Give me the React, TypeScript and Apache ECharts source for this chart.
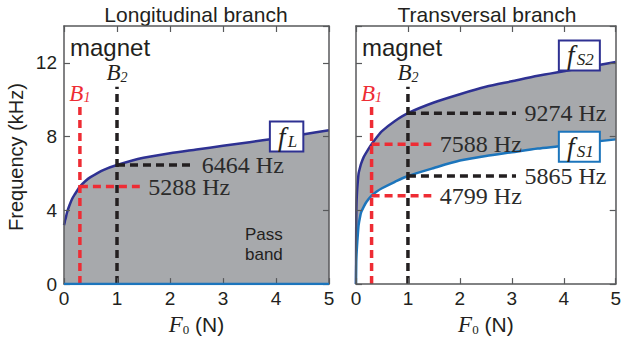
import React, { useEffect, useRef } from "react";
import * as echarts from "echarts";

// ---- data ----
const F0 = [0, 0.005, 0.01, 0.02, 0.03, 0.05, 0.075, 0.1, 0.15, 0.2, 0.3, 0.4, 0.5, 0.75, 1, 1.5, 2, 2.5, 3, 3.5, 4, 4.5, 5];
const fL = [3.2, 3.25, 3.3, 3.45, 3.55, 3.8, 4.05, 4.25, 4.6, 4.85, 5.288, 5.58, 5.8, 6.2, 6.464, 6.85, 7.1, 7.3, 7.5, 7.7, 7.9, 8.12, 8.35];
const fS1 = [0, 1.2, 1.6, 2.1, 2.5, 3.2, 3.6, 3.9, 4.2, 4.45, 4.799, 5.02, 5.2, 5.55, 5.865, 6.3, 6.7, 6.95, 7.15, 7.35, 7.5, 7.7, 7.85];
const fS2 = [0, 3.6, 4.4, 5.0, 5.4, 6.0, 6.3, 6.55, 6.9, 7.15, 7.588, 7.97, 8.3, 8.85, 9.274, 9.85, 10.3, 10.7, 11.0, 11.3, 11.55, 11.8, 12.05];

const B_FORCE = [0.3, 1]; // B1, B2 (N)
const B_TOP = [9.6, 10.7]; // top of the vertical markers (kHz)
const LONG_HZ = [5288, 6464]; // at B1, B2
const LONG_END = [1.43, 2.44]; // end of horizontal markers (N)
const TRANS_S2_HZ = [7588, 9274];
const TRANS_S1_HZ = [4799, 5865];
const TRANS_END = [1.45, 3.08];

const TITLES = ["Longitudinal branch", "Transversal branch"];
const X_TICKS = { min: 0, max: 5, interval: 1 };
const Y_TICKS = { min: 0, max: 14, interval: 4 };

// ---- styles ----
const DARK = "#2e3192";
const LIGHT = "#1c75bc";
const GREY = "#a7a9ac";
const RED = "#ee2c34";
const INK = "#231f20";
const FRAME = "#58595b";
const SERIF = "Liberation Serif";
const SANS = "Liberation Sans";

export default function App() {
  const ref = useRef<HTMLDivElement>(null);

  useEffect(() => {
    if (!ref.current) return;
    const chart = echarts.init(ref.current, undefined, { renderer: "svg" });

    const pts = (ys: number[]) => F0.map((x, i) => [x, ys[i]]);

    const mkX = (grid: number, pos: string, labels: boolean) => ({
      type: "value",
      gridIndex: grid,
      position: pos,
      ...X_TICKS,
      z: 10,
      axisLine: { show: true, onZero: false, lineStyle: { color: FRAME, width: 1.5 } },
      axisTick: { show: true, inside: true, length: 6, lineStyle: { color: FRAME, width: 1.2 } },
      axisLabel: labels
        ? { show: true, fontSize: 19, color: INK, fontFamily: SANS, margin: 5 }
        : { show: false },
      splitLine: { show: false },
      ...(labels
        ? {
            name: "{F|F}{z|0}{n| (N)}",
            nameLocation: "middle",
            nameGap: 22,
            nameTextStyle: {
              rich: {
                F: { fontFamily: SERIF, fontStyle: "italic", fontSize: 23, color: INK },
                z: { fontFamily: SERIF, fontSize: 13, color: INK, padding: [10, 0, 0, 0] },
                n: { fontFamily: SANS, fontSize: 21, color: INK },
              },
            },
          }
        : {}),
    });

    const mkY = (grid: number, pos: string, labels: boolean) => ({
      type: "value",
      gridIndex: grid,
      position: pos,
      ...Y_TICKS,
      z: 10,
      axisLine: { show: true, onZero: false, lineStyle: { color: FRAME, width: 1.5 } },
      axisTick: { show: true, inside: true, length: 6, lineStyle: { color: FRAME, width: 1.2 } },
      axisLabel: labels
        ? { show: true, fontSize: 19, color: INK, fontFamily: SANS, margin: 7, showMaxLabel: false }
        : { show: false },
      splitLine: { show: false },
    });

    const dash = (xi: number, data: number[][], color: string) => ({
      type: "line",
      xAxisIndex: xi,
      yAxisIndex: xi,
      data,
      symbol: "none",
      z: 6,
      silent: true,
      lineStyle: { color, width: 3.5, type: [8, 5] },
    });

    const hzLabel = (x: number, hz: number) => ({
      value: [x, hz / 1000],
      label: {
        show: true,
        position: "right",
        distance: 8,
        formatter: `${hz} Hz`,
        fontFamily: SERIF,
        fontSize: 24,
        color: "#2b2b2b",
        opacity: 1,
      },
    });

    const bLabel = (x: number, top: number, sub: string, color: string) => ({
      value: [x, top],
      label: {
        show: true,
        position: "top",
        distance: 2,
        opacity: 1,
        formatter: `{b|B}{s|${sub}}`,
        rich: {
          b: { fontFamily: SERIF, fontStyle: "italic", fontSize: 23, color, lineHeight: 22 },
          s: { fontFamily: SERIF, fontStyle: "italic", fontSize: 14, color, padding: [9, 0, 0, 0] },
        },
      },
    });

    const boxLabel = (x: number, y: number, sub: string, color: string) => ({
      value: [x, y],
      label: {
        show: true,
        position: "inside",
        opacity: 1,
        formatter: `{f|f}{s|${sub}}`,
        backgroundColor: "#fff",
        borderColor: color,
        borderWidth: 2,
        padding: [1, 5, 1, 5],
        rich: {
          f: { fontFamily: SERIF, fontStyle: "italic", fontSize: 27, lineHeight: 24, color: INK, width: 12 },
          s: { fontFamily: SERIF, fontStyle: "italic", fontSize: 17, color: INK, padding: [9, 0, 0, 0] },
        },
      },
    });

    const labels = (xi: number, data: any[]) => ({
      type: "scatter",
      xAxisIndex: xi,
      yAxisIndex: xi,
      symbolSize: 1,
      itemStyle: { color: "rgba(0,0,0,0)", opacity: 1 },
      silent: true,
      z: 20,
      data,
    });

    const curve = (xi: number, ys: number[], color: string, fill: string, z: number) => ({
      type: "line",
      xAxisIndex: xi,
      yAxisIndex: xi,
      data: pts(ys),
      symbol: "none",
      smooth: 0.25,
      z,
      silent: true,
      lineStyle: { color, width: 2.5 },
      areaStyle: { color: fill, opacity: 1 },
    });

    const option: any = {
      animation: false,
      grid: [
        { left: 64, top: 26, width: 265, height: 264 },
        { left: 356, top: 26, width: 263, height: 264 },
      ],
      xAxis: [mkX(0, "bottom", true), mkX(0, "top", false), mkX(1, "bottom", true), mkX(1, "top", false)],
      yAxis: [mkY(0, "left", true), mkY(0, "right", false), mkY(1, "left", false), mkY(1, "right", false)],
      graphic: [
        { type: "text", x: 196, y: 14, style: { text: TITLES[0], fontFamily: SANS, fontSize: 21, fill: INK, align: "center", verticalAlign: "middle" } },
        { type: "text", x: 487, y: 14, style: { text: TITLES[1], fontFamily: SANS, fontSize: 21, fill: INK, align: "center", verticalAlign: "middle" } },
        { type: "text", x: 70, y: 47, z: 30, style: { text: "magnet", fontFamily: SANS, fontSize: 24, fill: INK, align: "left", verticalAlign: "middle" } },
        { type: "text", x: 362, y: 47, z: 30, style: { text: "magnet", fontFamily: SANS, fontSize: 24, fill: INK, align: "left", verticalAlign: "middle" } },
        { type: "text", x: 245, y: 234, z: 30, style: { text: "Pass", fontFamily: SANS, fontSize: 17, fill: INK, align: "left", verticalAlign: "middle" } },
        { type: "text", x: 245, y: 254, z: 30, style: { text: "band", fontFamily: SANS, fontSize: 17, fill: INK, align: "left", verticalAlign: "middle" } },
        { type: "text", x: 16, y: 157, rotation: Math.PI / 2, style: { text: "Frequency (kHz)", fontFamily: SANS, fontSize: 20, fill: INK, align: "center", verticalAlign: "middle" } },
      ],
      series: [
        // longitudinal pass band
        curve(0, fL, DARK, GREY, 3),
        {
          type: "line", xAxisIndex: 0, yAxisIndex: 0, data: [[X_TICKS.min, 0], [X_TICKS.max, 0]], symbol: "none", z: 11,
          lineStyle: { color: LIGHT, width: 2.5 },
        },
        // transversal band: grey under fS2, white under fS1
        curve(2, fS2, DARK, GREY, 3),
        curve(2, fS1, LIGHT, "#ffffff", 4),
        // markers, longitudinal
        dash(0, [[B_FORCE[0], 0], [B_FORCE[0], B_TOP[0]]], RED),
        dash(0, [[B_FORCE[0], LONG_HZ[0] / 1000], [LONG_END[0], LONG_HZ[0] / 1000]], RED),
        dash(0, [[B_FORCE[1], 0], [B_FORCE[1], B_TOP[1]]], INK),
        dash(0, [[B_FORCE[1], LONG_HZ[1] / 1000], [LONG_END[1], LONG_HZ[1] / 1000]], INK),
        // markers, transversal
        dash(2, [[B_FORCE[0], 0], [B_FORCE[0], B_TOP[0]]], RED),
        dash(2, [[B_FORCE[0], TRANS_S2_HZ[0] / 1000], [TRANS_END[0], TRANS_S2_HZ[0] / 1000]], RED),
        dash(2, [[B_FORCE[0], TRANS_S1_HZ[0] / 1000], [TRANS_END[0], TRANS_S1_HZ[0] / 1000]], RED),
        dash(2, [[B_FORCE[1], 0], [B_FORCE[1], B_TOP[1]]], INK),
        dash(2, [[B_FORCE[1], TRANS_S2_HZ[1] / 1000], [TRANS_END[1], TRANS_S2_HZ[1] / 1000]], INK),
        dash(2, [[B_FORCE[1], TRANS_S1_HZ[1] / 1000], [TRANS_END[1], TRANS_S1_HZ[1] / 1000]], INK),
        labels(0, [
          hzLabel(LONG_END[0], LONG_HZ[0]),
          hzLabel(LONG_END[1], LONG_HZ[1]),
          bLabel(B_FORCE[0], B_TOP[0], "1", RED),
          bLabel(B_FORCE[1], B_TOP[1], "2", INK),
          boxLabel(4.2, 8.0, "L", DARK),
        ]),
        labels(2, [
          hzLabel(TRANS_END[0], TRANS_S2_HZ[0]),
          hzLabel(TRANS_END[0], TRANS_S1_HZ[0]),
          hzLabel(TRANS_END[1], TRANS_S2_HZ[1]),
          hzLabel(TRANS_END[1], TRANS_S1_HZ[1]),
          bLabel(B_FORCE[0], B_TOP[0], "1", RED),
          bLabel(B_FORCE[1], B_TOP[1], "2", INK),
          boxLabel(4.3, 12.4, "S2", DARK),
          boxLabel(4.3, 7.45, "S1", LIGHT),
        ]),
      ],
    };

    chart.setOption(option);
    return () => chart.dispose();
  }, []);

  return (
    <div
      ref={ref}
      style={{ position: "absolute", left: 0, top: 0, width: 624, height: 341, background: "#fff" }}
    />
  );
}
